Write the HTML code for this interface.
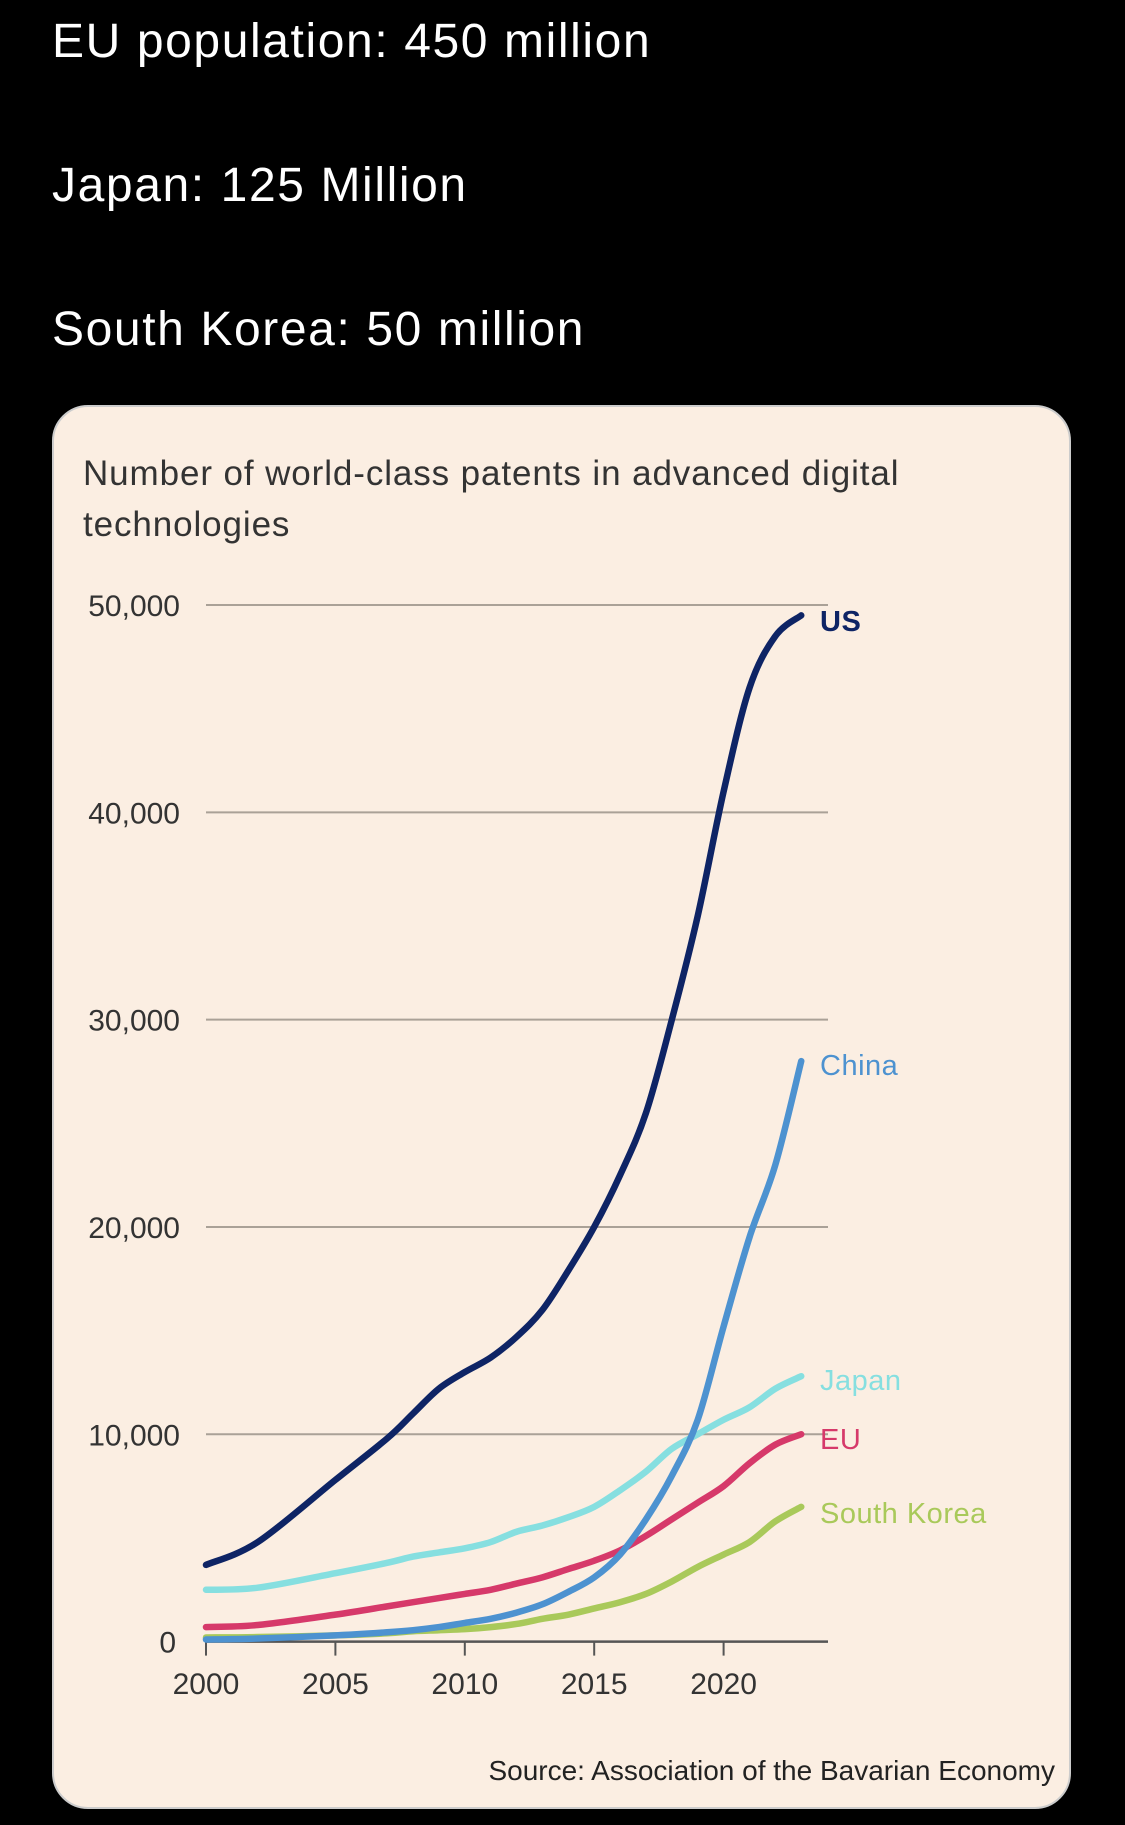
<!DOCTYPE html>
<html><head><meta charset="utf-8"><style>
body{margin:0;width:1125px;height:1825px;background:#000;position:relative;overflow:hidden;font-family:"Liberation Sans",sans-serif}
.hd{position:absolute;left:52px;color:#fff;font-size:48px;letter-spacing:1.6px}
#card{position:absolute;left:52px;top:405px;width:1019px;height:1404px;background:#fbeee2;border-radius:36px;border:2px solid #ccc;box-sizing:border-box;overflow:hidden}
</style></head><body>
<div class="hd" style="top:14px">EU population: 450 million</div>
<div class="hd" style="top:158px">Japan: 125 Million</div>
<div class="hd" style="top:302px">South Korea: 50 million</div>
<div id="card"></div>
<svg id="chart" width="1125" height="1825" style="position:absolute;left:0;top:0">
<text x="83" y="485" font-size="35" fill="#333" letter-spacing="0.9" font-family="Liberation Sans,sans-serif">Number of world-class patents in advanced digital</text>
<text x="83" y="536" font-size="35" fill="#333" letter-spacing="0.9" font-family="Liberation Sans,sans-serif">technologies</text>
<text x="1055" y="1780" font-size="28" fill="#222" text-anchor="end" font-family="Liberation Sans,sans-serif">Source: Association of the Bavarian Economy</text>
<g id="g"></g>
</svg>
<script>
const years=[2000,2002,2005,2007,2008,2009,2010,2011,2012,2013,2014,2015,2016,2017,2018,2019,2020,2021,2022,2023];
const us=[3700,4800,7800,9800,11000,12200,13000,13700,14700,16000,17900,20000,22500,25500,30000,35000,41000,46000,48500,49500];
const china=[100,150,300,450,550,700,900,1100,1400,1800,2400,3100,4200,5900,8000,10700,15200,19500,23000,28000];
const japan=[2500,2600,3300,3800,4100,4300,4500,4800,5300,5600,6000,6500,7300,8200,9300,10000,10700,11300,12200,12800];
const eu=[700,800,1300,1700,1900,2100,2300,2500,2800,3100,3500,3900,4400,5100,5900,6700,7500,8600,9500,10000];
const sk=[200,220,300,400,500,550,600,700,850,1100,1300,1600,1900,2300,2900,3600,4200,4800,5800,6500];
const yTicks=[0,10000,20000,30000,40000,50000];
const yTickLabels=["0","10,000","20,000","30,000","40,000","50,000"];
const xTicks=[2000,2005,2010,2015,2020];
const seriesNames=["US","China","Japan","EU","South Korea"];
const X=y=>206+(y-2000)*25.88;
const Y=v=>1641.6-v*(1641.6-605)/50000;
const g=document.getElementById('g');const NS='http://www.w3.org/2000/svg';
function mk(t,a){const e=document.createElementNS(NS,t);for(const k in a)e.setAttribute(k,a[k]);g.appendChild(e);return e;}
yTicks.forEach((v,i)=>{
 if(v>0){const l=mk('line',{x1:206,x2:828,y1:Y(v),y2:Y(v),stroke:'#aaa197','stroke-width':2});
 
 }
 const t=mk('text',{x:v===0?176:180,y:Y(v)+11,'font-size':30,fill:'#333','text-anchor':'end','font-family':'Liberation Sans,sans-serif'});
 t.textContent=yTickLabels[i];
 
 
});
const ax=mk('line',{x1:206,x2:828,y1:Y(0),y2:Y(0),stroke:'#555','stroke-width':2.5});


xTicks.forEach(yr=>{
 const tk=mk('line',{x1:X(yr),x2:X(yr),y1:Y(0),y2:Y(0)+14,stroke:'#555','stroke-width':2});
 
 
 const t=mk('text',{x:X(yr),y:1694,'font-size':30,fill:'#333','text-anchor':'middle','font-family':'Liberation Sans,sans-serif'});
 t.textContent=yr;
 
 
});
function path(vals){const p=years.map((y,i)=>[X(y),Y(vals[i])]);let d='M'+p[0];
 for(let i=0;i<p.length-1;i++){const p0=p[i-1]||p[i],p1=p[i],p2=p[i+1],p3=p[i+2]||p2;
 d+=' C'+(p1[0]+(p2[0]-p0[0])/6)+','+(p1[1]+(p2[1]-p0[1])/6)+' '+(p2[0]-(p3[0]-p1[0])/6)+','+(p2[1]-(p3[1]-p1[1])/6)+' '+p2;}return d;}
const sets=[[sk,'#a9c95a','south-korea'],[eu,'#d6396a','eu'],[japan,'#86dfe0','japan'],[china,'#4d92d0','china'],[us,'#0e2465','us']];
sets.forEach(s=>{const l=mk('path',{d:path(s[0]),fill:'none',stroke:s[1],'stroke-width':6.5,'stroke-linecap':'round','stroke-linejoin':'round'});
 
 });
const labs=[[seriesNames[0],'#0e2465',631,'us'],[seriesNames[1],'#4d92d0',1075,'china'],[seriesNames[2],'#86dfe0',1390,'japan'],[seriesNames[3],'#d6396a',1449,'eu'],[seriesNames[4],'#a9c95a',1523,'south-korea']];
labs.forEach(l=>{const t=mk('text',{x:820,y:l[2],'font-size':29,fill:l[1],'font-family':'Liberation Sans,sans-serif','font-weight':l[0]==='US'?'bold':'normal','letter-spacing':0.5});
 t.textContent=l[0];
 
 });
</script>
</body></html>
